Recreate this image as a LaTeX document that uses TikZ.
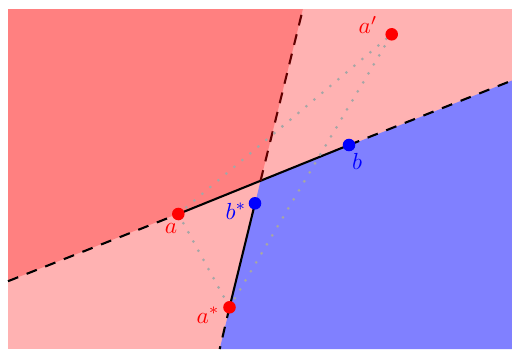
\documentclass[tikz,border=0pt]{standalone}
\usetikzlibrary{calc}
\definecolor{darkline}{RGB}{95,0,0}
\begin{document}
\begin{tikzpicture}[x=0.43pt,y=-0.43pt,
  solidline/.style={line width=0.9pt,black},
  dashline/.style={line width=0.9pt,black,dash pattern=on 4.7pt off 3.9pt},
  dotline/.style={line width=1.3pt,gray!70,line cap=round,dash pattern=on 0pt off 4.5pt},
  pt/.style={circle,inner sep=0pt,minimum size=5.4pt},
  lab/.style={inner sep=0pt}]
\useasboundingbox (0,0) rectangle (512,349);
% points
\coordinate (a) at (178.3,214);
\coordinate (b) at (349,145);
\coordinate (as) at (229.5,307.3);
\coordinate (bs) at (255,203.3);
\coordinate (ap) at (391.7,34.3);
% line ends
\coordinate (L1) at (8,281.2);
\coordinate (R1) at (512,80.5);
\coordinate (T2) at (302.9,9);
\coordinate (B2) at (219.7,349);
\coordinate (I) at (intersection of a--b and as--bs);
% regions
\fill[red!30] (8,9) rectangle (512,349);
\fill[red!50] (8,9) -- (T2) -- (I) -- (L1) -- cycle;
\fill[blue!50] (I) -- (R1) -- (512,349) -- (B2) -- cycle;
% lines
\draw[dashline] (L1) -- (a);
\draw[dashline] (b) -- (R1);
\draw[solidline] (a) -- (b);
\draw[solidline] (as) -- (bs);
\draw[dashline,darkline] (I) -- (T2);
\draw[dashline] (as) -- (B2);
% dotted triangle
\draw[dotline] (a) -- (as);
\draw[dotline] (a) -- (ap);
\draw[dotline] (as) -- (ap);
% dots
\node[pt,fill=red] (na) at (a) {};
\node[pt,fill=blue] (nb) at (b) {};
\node[pt,fill=red] (nas) at (as) {};
\node[pt,fill=blue] (nbs) at (bs) {};
\node[pt,fill=red] (nap) at (ap) {};
% labels
\node[lab,text=red] (la) at (171,228) {$a$};
\node[lab,text=blue] (lb) at (357,161) {$b$};
\node[lab,text=blue] (lbs) at (236,211) {$b^*$};
\node[lab,text=red] (las) at (208,315) {$a^*$};
\node[lab,text=red] (lap) at (368,25) {$a'$};
\end{tikzpicture}
\end{document}
